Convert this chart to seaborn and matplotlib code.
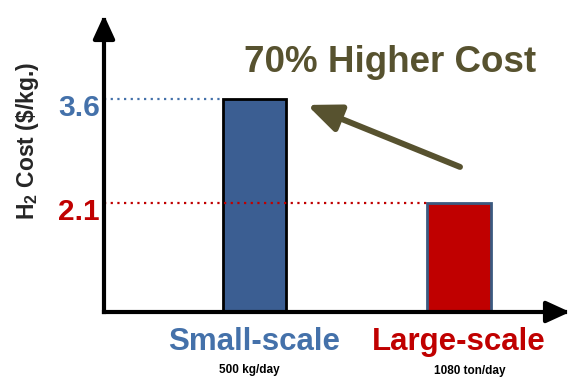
import matplotlib
matplotlib.use("Agg")
import matplotlib.pyplot as plt
from matplotlib.patches import FancyArrowPatch
import seaborn as sns
import pandas as pd

# Data
categories = ["Small-scale", "Large-scale"]
capacities = ["500 kg/day", "1080 ton/day"]
costs = [3.6, 2.1]
value_labels = ["3.6", "2.1"]
headline = "70% Higher Cost"

bar_colors = ["#3b5e92", "#c00000"]
edge_colors = ["#000000", "#3b5a80"]
text_colors = ["#4471aa", "#c00000"]
olive = "#57522f"

sns.set_theme(style="white")
plt.rcParams["font.family"] = ["Liberation Sans", "DejaVu Sans"]
plt.rcParams["mathtext.fontset"] = "custom"
plt.rcParams["mathtext.rm"] = "Liberation Sans:bold"
plt.rcParams["mathtext.it"] = "Liberation Sans:bold"
plt.rcParams["mathtext.bf"] = "Liberation Sans:bold"

fig = plt.figure(figsize=(5.72, 3.77), dpi=100)
ax = fig.add_axes([104 / 572, 1 - 312 / 377, 466 / 572, 297 / 377])

df = pd.DataFrame({"scale": categories, "cost": costs})
sns.barplot(data=df, x="scale", y="cost", hue="scale", palette=bar_colors,
            legend=False, width=0.31, ax=ax, saturation=1)
for patch, ec in zip(ax.patches, edge_colors):
    patch.set_edgecolor(ec)
    patch.set_linewidth(2)

ax.set_xlim(-0.736, 1.543)
ax.set_ylim(0.527, 4.81)

# Dotted guides from the axis to each bar
bar_w = 0.31
for i, (c, col) in enumerate(zip(costs, text_colors)):
    ax.plot([-0.736, i - bar_w / 2], [c, c], linestyle=(0, (1, 2)),
            color=col, lw=1.6, zorder=1)

# Value labels on the y axis
for c, lab, col in zip(costs, value_labels, text_colors):
    ax.annotate(lab, xy=(0, c), xycoords=("axes fraction", "data"),
                xytext=(-4, -9), textcoords="offset pixels",
                ha="right", va="center", fontsize=21.5, fontweight="bold",
                color=col)

# Category labels and capacities under the x axis
ax.set_xticks(range(len(categories)))
ax.set_xticklabels(categories, fontsize=22.5, fontweight="bold")
for lab, col in zip(ax.get_xticklabels(), text_colors):
    lab.set_color(col)
ax.tick_params(axis="x", length=0, pad=11)
ax.set_yticks([])
ax.set_xlabel("")
ax.set_ylabel("H$_2$ Cost (\\$/kg.)", fontsize=16.5, fontweight="bold")
ax.yaxis.set_label_coords(-0.135, 0.575)

cap_offsets = [(-5, -61), (11, -62)]
for i, (cap, off) in enumerate(zip(capacities, cap_offsets)):
    ax.annotate(cap, xy=(i, 0), xycoords=("data", "axes fraction"),
                xytext=off, textcoords="offset pixels", ha="center",
                va="baseline", fontsize=8.5, fontweight="bold", color="black")

# Axes drawn as arrows
for sp in ax.spines.values():
    sp.set_visible(False)
for end in [(0, 1), (1, 0)]:
    arr = FancyArrowPatch((0, 0), end, transform=ax.transAxes,
                          arrowstyle="-|>,head_length=0.72,head_width=0.33",
                          mutation_scale=20, lw=3, color="black",
                          shrinkA=0, shrinkB=0, clip_on=False,
                          capstyle="projecting", zorder=5)
    ax.add_patch(arr)

# Headline with arrow pointing to the small-scale bar
ax.text(0.663, 3.99, headline, ha="center", va="baseline", fontsize=26.5,
        fontweight="bold", color=olive)
ax.annotate("", xy=(0.257, 3.513), xytext=(1.005, 2.619),
            arrowprops=dict(arrowstyle="-|>,head_length=1.0,head_width=0.42",
                            mutation_scale=20, lw=4.3, color=olive,
                            shrinkA=0, shrinkB=0))

fig.savefig("out.png", dpi=100)
